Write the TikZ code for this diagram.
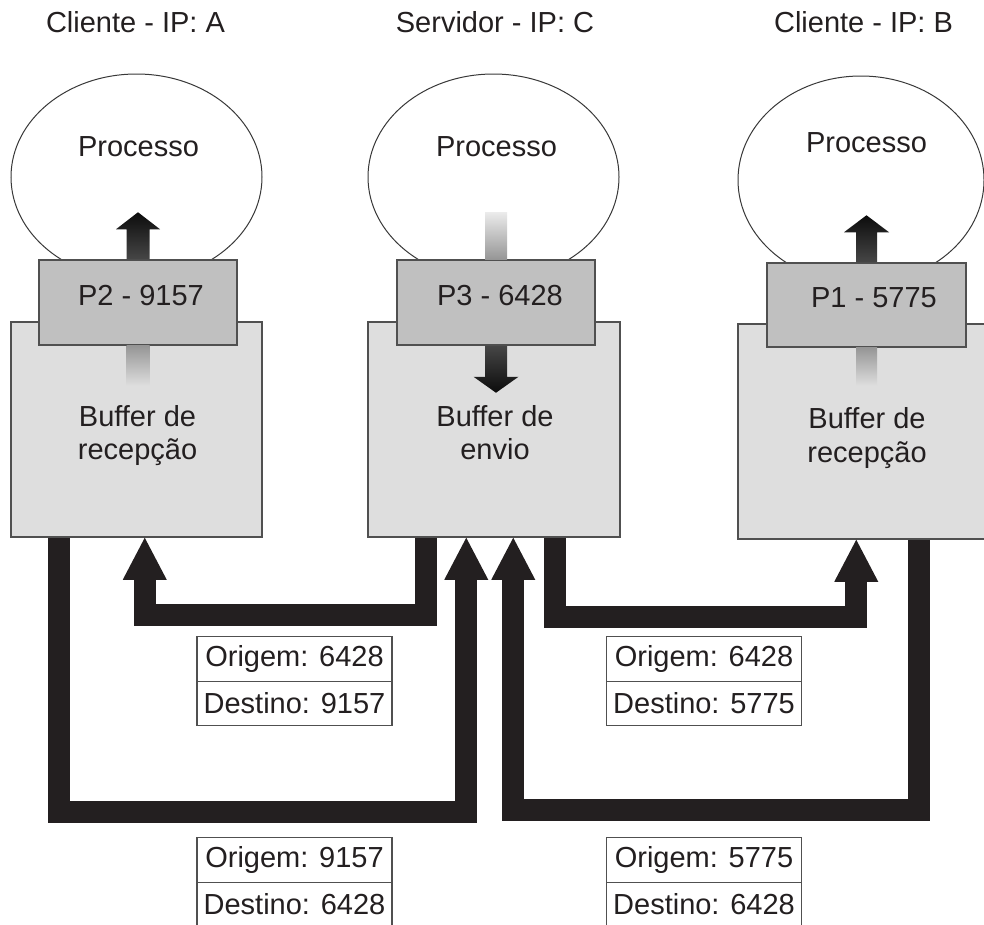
\documentclass[tikz,border=0pt]{standalone}
\usepackage{fontspec}
\setmainfont{Liberation Sans}
\usetikzlibrary{shapes.geometric,arrows.meta,calc}
\definecolor{ink}{RGB}{35,31,32}
\definecolor{edge}{RGB}{80,80,80}
\definecolor{bufgray}{RGB}{222,222,222}
\definecolor{portgray}{RGB}{192,192,192}
\definecolor{fadegray}{RGB}{150,150,150}
\definecolor{arrowdark}{RGB}{12,12,12}
\definecolor{arrowmid}{RGB}{70,70,70}

\begin{document}
\begin{tikzpicture}[x=1pt,y=-1pt,
  txt/.style={font=\fontsize{29}{33}\selectfont, text=ink, inner sep=0pt, anchor=base},
  proc/.style={ellipse, draw=edge!70!black, line width=1pt, fill=white, inner sep=0pt,
               minimum width=251pt, minimum height=206pt},
  buffer/.style={rectangle, draw=edge, line width=1.5pt, fill=bufgray, inner sep=0pt,
                 minimum width=251pt, minimum height=215pt},
  port/.style={rectangle, draw=edge, line width=1.5pt, fill=portgray, inner sep=0pt,
               minimum width=198pt, minimum height=85pt},
  hdr/.style={rectangle, draw=edge, line width=1.2pt, fill=white, inner sep=0pt,
              minimum width=195pt, minimum height=44.5pt,
              font=\fontsize{29}{33}\selectfont, text=ink},
  conn/.style={draw=ink, line width=22pt,
               -{Triangle[width=44pt,length=42pt,line width=0pt]}},
]
\useasboundingbox (0,0) rectangle (984,924);
\clip (0,0) rectangle (984,924);

% host titles
\node[txt] (hA) at (135.5,32) {Cliente - IP: A};
\node[txt] (hC) at (495,32) {Servidor - IP: C};
\node[txt] (hB) at (863.5,32) {Cliente - IP: B};

% processes
\node[proc] (procA) at (136.5,177) {};
\node[proc] (procC) at (493.5,177) {};
\node[proc, minimum width=246pt, minimum height=208pt] (procB) at (861,180) {};
\node[txt] at (138.5,156) {Processo};
\node[txt] at (496.5,156) {Processo};
\node[txt] at (866.5,152) {Processo};

% buffers
\node[buffer] (bufA) at (136.5,429.5) {};
\node[buffer, minimum width=252pt] (bufC) at (494,429.5) {};
\node[buffer] (bufB) at (863.5,431.5) {};

% ports
\node[port] (portA) at (138,302.5) {};
\node[port] (portC) at (496,302.5) {};
\node[port, minimum width=199pt, minimum height=84pt] (portB) at (866.5,305) {};
\node[txt] at (141,305) {P2 - 9157};
\node[txt] at (500,305) {P3 - 6428};
\node[txt] at (874,307) {P1 - 5775};

% data flow between port and process
\begin{scope}[shift={(portA.north)}]
  \shade[top color=arrowdark, bottom color=arrowmid]
    (-11.5,0) -- (-11.5,-30) -- (-22,-30) -- (0,-47) -- (22,-30) -- (11.5,-30) -- (11.5,0) -- cycle;
\end{scope}
\begin{scope}[shift={(portA.south)}]
  \shade[top color=fadegray, bottom color=bufgray] (-11.5,0) rectangle (11.5,40);
\end{scope}

\begin{scope}[shift={(portC.north)}]
  \shade[top color=bufgray!60!white, bottom color=fadegray] (-11,0) rectangle (11,-47);
\end{scope}
\begin{scope}[shift={(portC.south)}]
  \shade[top color=arrowmid, bottom color=arrowdark]
    (-11,0) -- (-11,31) -- (-22.5,31) -- (0,47) -- (22.5,31) -- (11,31) -- (11,0) -- cycle;
\end{scope}

\begin{scope}[shift={(portB.north)}]
  \shade[top color=arrowdark, bottom color=arrowmid]
    (-10.5,0) -- (-10.5,-30) -- (-22.5,-30) -- (0,-47) -- (22.5,-30) -- (10.5,-30) -- (10.5,0) -- cycle;
\end{scope}
\begin{scope}[shift={(portB.south)}]
  \shade[top color=fadegray, bottom color=bufgray] (-10.5,0) rectangle (10.5,38);
\end{scope}

% buffer labels
\node[txt] at (137.5,426) {Buffer de};
\node[txt] at (137.5,459) {recepção};
\node[txt] at (495,426) {Buffer de};
\node[txt] at (495,459) {envio};
\node[txt] at (867,428) {Buffer de};
\node[txt] at (867,462) {recepção};

% segment end points on the buffers
\coordinate (aOut)  at ($(bufA.south west)+(49,0)$);
\coordinate (aIn)   at ($(bufA.south west)+(134.5,0)$);
\coordinate (cOutA) at ($(bufC.south west)+(59,0)$);
\coordinate (cInA)  at ($(bufC.south west)+(99,0)$);
\coordinate (cInB)  at ($(bufC.south west)+(146,0)$);
\coordinate (cOutB) at ($(bufC.south west)+(188,0)$);
\coordinate (bIn)   at ($(bufB.south west)+(119,0)$);
\coordinate (bOut)  at ($(bufB.south west)+(182,0)$);

% segments
\draw[conn] (aOut) -- ++(0,274) -| (cInA);
\draw[conn] (bOut) -- ++(0,270) -| (cInB);
\draw[conn] (cOutA) -- ++(0,77) -| (aIn);
\draw[conn] (cOutB) -- ++(0,79) -| (bIn);

% segment headers
\node[hdr] (o1) at (294.5,659) {Origem: 6428};
\node[hdr] (d1) at (294.5,703.5) {Destino: 9157};
\node[hdr] (o2) at (704,659) {Origem: 6428};
\node[hdr] (d2) at (704,703.5) {Destino: 5775};
\node[hdr] (o3) at (294.5,860) {Origem: 9157};
\node[hdr] (d3) at (294.5,904.5) {Destino: 6428};
\node[hdr] (o4) at (704,860) {Origem: 5775};
\node[hdr] (d4) at (704,904.5) {Destino: 6428};
\end{tikzpicture}
\end{document}
